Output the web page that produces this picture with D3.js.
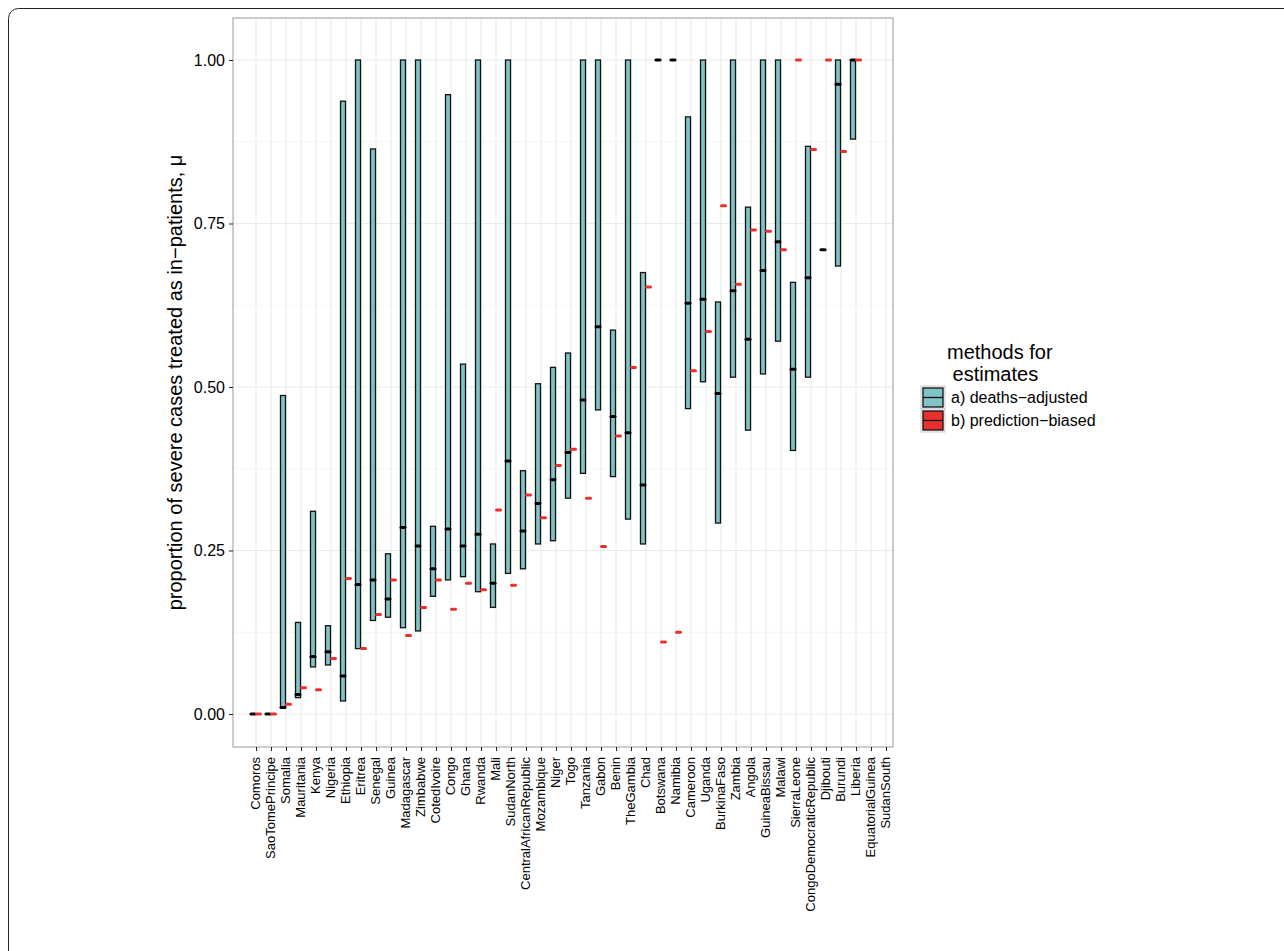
<!DOCTYPE html>
<html><head><meta charset="utf-8">
<script src="https://cdn.jsdelivr.net/npm/d3@7"></script>
<style>body{margin:0;background:#fff}</style>
</head><body>
<svg id="chart" width="1284" height="951"></svg>
<script>
var countries = ["Comoros","SaoTomePrincipe","Somalia","Mauritania","Kenya","Nigeria","Ethiopia","Eritrea","Senegal","Guinea","Madagascar","Zimbabwe","CotedIvoire","Congo","Ghana","Rwanda","Mali","SudanNorth","CentralAfricanRepublic","Mozambique","Niger","Togo","Tanzania","Gabon","Benin","TheGambia","Chad","Botswana","Namibia","Cameroon","Uganda","BurkinaFaso","Zambia","Angola","GuineaBissau","Malawi","SierraLeone","CongoDemocraticRepublic","Djibouti","Burundi","Liberia","EquatorialGuinea","SudanSouth"];
var lower = [0,0,0.01,0.025,0.072,0.075,0.02,0.1,0.143,0.148,0.132,0.127,0.18,0.205,0.21,0.187,0.163,0.215,0.222,0.26,0.265,0.33,0.368,0.465,0.363,0.298,0.26,1,1,0.467,0.508,0.292,0.515,0.434,0.52,0.57,0.403,0.515,0.71,0.685,0.879,null,null];
var middle = [0,0,0.01,0.03,0.088,0.095,0.058,0.198,0.205,0.176,0.285,0.257,0.222,0.283,0.257,0.275,0.2,0.387,0.28,0.322,0.358,0.4,0.48,0.592,0.455,0.43,0.35,1,1,0.628,0.634,0.49,0.647,0.573,0.678,0.722,0.527,0.667,0.71,0.963,1,null,null];
var upper = [0,0,0.487,0.14,0.31,0.135,0.937,1,0.864,0.245,1,1,0.287,0.947,0.535,1,0.26,1,0.372,0.505,0.53,0.552,1,1,0.587,1,0.675,1,1,0.913,1,0.63,1,0.775,1,1,0.66,0.868,0.71,1,1,null,null];
var predicted = [0,0,0.015,0.04,0.037,0.085,0.207,0.1,0.152,0.205,0.12,0.163,0.205,0.16,0.2,0.19,0.312,0.197,0.335,0.3,0.38,0.405,0.33,0.256,0.425,0.53,0.653,0.11,0.125,0.525,0.585,0.777,0.657,0.74,0.738,0.71,1,0.863,1,0.86,1,null,null];
var yTicks = [0,0.25,0.5,0.75,1];
var legendLabels = ["a) deaths\u2212adjusted","b) prediction\u2212biased"];

var svg = d3.select("#chart");
var pLeft = 233, pRight = 893, pTop = 18, pBottom = 747;
var teal = "#80c4c8", red = "#e8312f";

svg.append("rect").attr("x",8.5).attr("y",8.5).attr("width",1300).attr("height",1000).attr("rx",10)
  .attr("fill","none").attr("stroke","#222").attr("stroke-width",1);

var y = d3.scaleLinear().domain([0,1]).range([714,60]);
var x = d3.scalePoint().domain(countries).range([256,886]);

// grid
var minor = [0.125,0.375,0.625,0.875];
svg.selectAll(".gmin").data(minor).enter().append("line")
  .attr("x1",pLeft).attr("x2",pRight).attr("y1",d=>y(d)).attr("y2",d=>y(d))
  .attr("stroke","#f4f4f4").attr("stroke-width",0.8);
svg.selectAll(".gy").data(yTicks).enter().append("line")
  .attr("x1",pLeft).attr("x2",pRight).attr("y1",d=>y(d)).attr("y2",d=>y(d))
  .attr("stroke","#ebebeb").attr("stroke-width",1.2);
svg.selectAll(".gx").data(countries).enter().append("line")
  .attr("x1",d=>x(d)).attr("x2",d=>x(d)).attr("y1",pTop).attr("y2",pBottom)
  .attr("stroke","#ebebeb").attr("stroke-width",1.2);
svg.append("rect").attr("x",pLeft).attr("y",pTop).attr("width",pRight-pLeft).attr("height",pBottom-pTop)
  .attr("fill","none").attr("stroke","#999").attr("stroke-width",1);

// boxes
var idx = d3.range(countries.length).filter(i => lower[i] !== null);
svg.selectAll(".box").data(idx).enter().append("rect")
  .attr("x",i=>x(countries[i])-5.5).attr("width",5)
  .attr("y",i=>y(upper[i])).attr("height",i=>Math.max(0.01,y(lower[i])-y(upper[i])))
  .attr("fill",teal).attr("stroke","#111").attr("stroke-width",1.3);
svg.selectAll(".mid").data(idx).enter().append("rect")
  .attr("x",i=>x(countries[i])-6.5).attr("width",7)
  .attr("y",i=>y(middle[i])-1.5).attr("height",3).attr("rx",1.5).attr("fill","#000");
svg.selectAll(".pred").data(idx).enter().append("rect")
  .attr("x",i=>x(countries[i])-1).attr("width",7)
  .attr("y",i=>y(predicted[i])-1.5).attr("height",3).attr("rx",1.5).attr("fill",red);

// axes
var ya = svg.append("g").attr("transform","translate("+pLeft+",0)")
  .call(d3.axisLeft(y).tickValues(yTicks).tickFormat(d3.format(".2f")).tickSize(4).tickPadding(4));
ya.select(".domain").remove();
ya.selectAll("text").attr("font-family","Liberation Sans, Arial").attr("font-size",16).attr("fill","#000");
ya.selectAll("line").attr("stroke","#222");
var xa = svg.append("g").attr("transform","translate(0,"+pBottom+")")
  .call(d3.axisBottom(x).tickSize(4).tickPadding(3));
xa.select(".domain").remove();
xa.selectAll("line").attr("stroke","#222");
xa.selectAll("text").attr("font-family","Liberation Sans, Arial").attr("font-size",13).attr("fill","#000")
  .attr("text-anchor","end").attr("dy","0.35em").attr("transform","translate(-1,4) rotate(-90)").attr("x",-6).attr("y",0);

svg.append("text").attr("transform","translate(182,"+((pTop+pBottom)/2)+") rotate(-90)")
  .attr("text-anchor","middle").attr("font-family","Liberation Sans, Arial").attr("font-size",20)
  .text("proportion of severe cases treated as in\u2212patients, \u03bc");

// legend
var lg = svg.append("g").attr("font-family","Liberation Sans, Arial");
lg.append("text").attr("x",947).attr("y",359).attr("font-size",20).text("methods for");
lg.append("text").attr("x",947).attr("y",381).attr("font-size",20).attr("xml:space","preserve").text(" estimates");
[teal, red].forEach(function(c,i){
  var yy = 386 + i*23;
  lg.append("rect").attr("x",921).attr("y",yy).attr("width",24).attr("height",23).attr("fill","#f2f2f2").attr("stroke","#ccc");
  lg.append("rect").attr("x",923).attr("y",yy+2).attr("width",20).attr("height",19).attr("fill",c).attr("stroke","#111").attr("stroke-width",1.3);
  lg.append("line").attr("x1",923).attr("x2",943).attr("y1",yy+11.5).attr("y2",yy+11.5).attr("stroke","#111").attr("stroke-width",1.3);
  lg.append("text").attr("x",951).attr("y",yy+17).attr("font-size",16).text(legendLabels[i]);
});
</script>
</body></html>
